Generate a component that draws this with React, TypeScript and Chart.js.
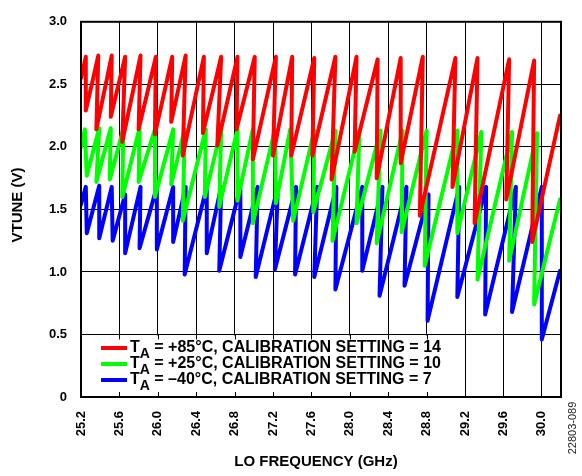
import React, { useEffect, useRef } from "react";
import { Chart, registerables } from "chart.js";

Chart.register(...registerables);

// ---- data (LO frequency in GHz, VTUNE in V) ----
const RED_X = [25.2, 25.25, 25.25, 25.38, 25.36, 25.52, 25.51, 25.66, 25.63, 25.82, 25.8, 25.98, 25.97, 26.15, 26.14, 26.29, 26.26, 26.48, 26.47, 26.66, 26.62, 26.83, 26.82, 27.01, 26.99, 27.23, 27.2, 27.4, 27.39, 27.63, 27.61, 27.85, 27.81, 28.07, 28.05, 28.29, 28.28, 28.53, 28.53, 28.76, 28.73, 29.1, 29.07, 29.33, 29.3, 29.66, 29.63, 29.92, 29.9, 30.19];
const RED_Y = [2.55, 2.72, 2.29, 2.73, 2.14, 2.73, 2.24, 2.72, 2.04, 2.73, 2.14, 2.72, 2.1, 2.72, 2.2, 2.73, 1.93, 2.72, 2.11, 2.72, 2.01, 2.72, 2.14, 2.72, 1.9, 2.72, 1.93, 2.72, 1.93, 2.71, 1.93, 2.72, 1.74, 2.72, 1.96, 2.7, 1.75, 2.71, 1.87, 2.72, 1.45, 2.71, 1.68, 2.71, 1.39, 2.7, 1.58, 2.69, 1.24, 2.25];

const GREEN_X = [25.2, 25.24, 25.26, 25.39, 25.36, 25.51, 25.5, 25.64, 25.63, 25.81, 25.8, 25.97, 25.97, 26.16, 26.14, 26.28, 26.26, 26.5, 26.49, 26.66, 26.64, 26.83, 26.83, 26.99, 26.99, 27.22, 27.23, 27.38, 27.41, 27.63, 27.62, 27.85, 27.82, 28.1, 28.07, 28.32, 28.28, 28.55, 28.54, 28.8, 28.78, 29.12, 29.12, 29.37, 29.33, 29.69, 29.66, 29.95, 29.92, 30.19];
const GREEN_Y = [2.0, 2.14, 1.77, 2.15, 1.72, 2.15, 1.74, 2.14, 1.6, 2.15, 1.72, 2.14, 1.6, 2.14, 1.7, 2.14, 1.41, 2.14, 1.6, 2.14, 1.52, 2.14, 1.57, 2.14, 1.39, 2.14, 1.55, 2.14, 1.41, 2.13, 1.48, 2.13, 1.25, 2.13, 1.39, 2.13, 1.23, 2.13, 1.32, 2.13, 1.05, 2.13, 1.31, 2.12, 0.94, 2.12, 1.09, 2.11, 0.74, 1.58];

const BLUE_X = [25.2, 25.25, 25.26, 25.39, 25.39, 25.52, 25.53, 25.66, 25.66, 25.82, 25.81, 25.99, 25.99, 26.16, 26.16, 26.29, 26.28, 26.51, 26.51, 26.66, 26.64, 26.86, 26.86, 27.04, 27.02, 27.25, 27.22, 27.44, 27.43, 27.66, 27.63, 27.86, 27.85, 28.13, 28.13, 28.34, 28.31, 28.59, 28.57, 28.82, 28.81, 29.14, 29.12, 29.42, 29.41, 29.73, 29.69, 30.0, 30.0, 30.19];
const BLUE_Y = [1.54, 1.68, 1.31, 1.69, 1.27, 1.68, 1.25, 1.62, 1.15, 1.68, 1.19, 1.68, 1.18, 1.68, 1.24, 1.68, 0.98, 1.68, 1.15, 1.68, 1.01, 1.68, 1.12, 1.68, 0.96, 1.68, 1.02, 1.68, 0.98, 1.68, 0.96, 1.68, 0.86, 1.68, 1.01, 1.68, 0.81, 1.68, 0.89, 1.62, 0.61, 1.68, 0.8, 1.68, 0.66, 1.68, 0.68, 1.68, 0.46, 1.01];

const X_TICKS = [25.2, 25.6, 26.0, 26.4, 26.8, 27.2, 27.6, 28.0, 28.4, 28.8, 29.2, 29.6, 30.0];
const X_MIN = 25.2;
const X_MAX = 30.2;
const Y_TICK_LABELS = ["0", "0.5", "1.0", "1.5", "2.0", "2.5", "3.0"];

const SERIES_COLORS = ["#ff0000", "#00ff00", "#0000ff"];
const LEGEND_TEMPS = ["+85°C", "+25°C", "\u201340°C"];
const LEGEND_SETTINGS = ["14", "10", "7"];

const X_TITLE = "LO FREQUENCY (GHz)";
const Y_TITLE = "VTUNE (V)";
const FIG_CODE = "22803-089";

const FONT = "'Liberation Sans', Arial, Helvetica, sans-serif";

const decorPlugin = {
  id: "decor",
  afterDatasetsDraw(chart: any) {
    const { ctx, chartArea, scales } = chart;
    const xs = scales.x;
    const ys = scales.y;
    const yTop = ys.getPixelForValue(0.5);
    const yBot = ys.getPixelForValue(0);
    const boxRight = xs.getPixelForValue(29.08);
    ctx.save();
    // legend box
    ctx.fillStyle = "#ffffff";
    ctx.fillRect(chartArea.left + 1, yTop + 1, boxRight - chartArea.left - 1, yBot - yTop - 2);
    ctx.strokeStyle = "#000";
    ctx.lineWidth = 1;
    for (const v of X_TICKS) {
      const px = Math.round(xs.getPixelForValue(v)) + 0.5;
      if (px <= chartArea.left + 2 || px >= boxRight) continue;
      ctx.beginPath();
      ctx.moveTo(px, yTop);
      ctx.lineTo(px, yTop + 5);
      ctx.moveTo(px, yBot);
      ctx.lineTo(px, yBot - 5);
      ctx.stroke();
    }
    const rows = [348, 364, 380];
    for (let i = 0; i < 3; i++) {
      const ry = rows[i];
      ctx.strokeStyle = SERIES_COLORS[i];
      ctx.lineWidth = 4;
      ctx.beginPath();
      ctx.moveTo(101, ry);
      ctx.lineTo(127, ry);
      ctx.stroke();
      ctx.fillStyle = "#000";
      ctx.textBaseline = "middle";
      ctx.textAlign = "left";
      ctx.font = `bold 16px ${FONT}`;
      let tx = 130;
      ctx.fillText("T", tx, ry);
      tx += ctx.measureText("T").width;
      ctx.font = `bold 14px ${FONT}`;
      ctx.fillText("A", tx, ry + 6);
      tx += ctx.measureText("A").width;
      ctx.font = `bold 16px ${FONT}`;
      ctx.fillText(` = ${LEGEND_TEMPS[i]}, CALIBRATION SETTING = ${LEGEND_SETTINGS[i]}`, tx, ry);
    }
    // frame
    ctx.strokeStyle = "#000";
    ctx.lineWidth = 2;
    ctx.strokeRect(chartArea.left, chartArea.top, chartArea.right - chartArea.left, chartArea.bottom - chartArea.top);
    ctx.restore();
  },
  afterDraw(chart: any) {
    const { ctx } = chart;
    ctx.save();
    ctx.fillStyle = "#000";
    ctx.textAlign = "center";
    ctx.textBaseline = "middle";
    ctx.font = `bold 15px ${FONT}`;
    ctx.fillText(X_TITLE, 316, 462);
    ctx.save();
    ctx.translate(18, 205);
    ctx.rotate(-Math.PI / 2);
    ctx.fillText(Y_TITLE, 0, 0);
    ctx.restore();
    ctx.save();
    ctx.translate(573, 428);
    ctx.rotate(-Math.PI / 2);
    ctx.font = `11px ${FONT}`;
    ctx.fillStyle = "#222";
    ctx.fillText(FIG_CODE, 0, 0);
    ctx.restore();
    ctx.restore();
  },
};

export default function App() {
  const canvasRef = useRef<HTMLCanvasElement | null>(null);

  useEffect(() => {
    const canvas = canvasRef.current;
    if (!canvas) return;
    const mk = (xs: number[], ys: number[]) => xs.map((x, i) => ({ x, y: ys[i] }));
    const series = [
      mk(RED_X, RED_Y),
      mk(GREEN_X, GREEN_Y),
      mk(BLUE_X, BLUE_Y),
    ];
    const chart = new Chart(canvas, {
      type: "scatter",
      data: {
        datasets: series.map((d, i) => ({
          data: d,
          showLine: true,
          borderColor: SERIES_COLORS[i],
          backgroundColor: SERIES_COLORS[i],
          borderWidth: 4,
          pointRadius: 0,
          pointHoverRadius: 0,
          tension: 0,
          fill: false,
          borderJoinStyle: "round",
          borderCapStyle: "round",
        })),
      },
      options: {
        animation: false,
        responsive: false,
        devicePixelRatio: 1,
        events: [],
        layout: { padding: { top: 14, right: 21, left: 0, bottom: 0 } },
        plugins: { legend: { display: false }, tooltip: { enabled: false }, title: { display: false } },
        scales: {
          x: {
            type: "linear",
            min: X_MIN,
            max: X_MAX,
            afterBuildTicks: (s: any) => {
              s.ticks = X_TICKS.map((v) => ({ value: v }));
            },
            afterFit: (s: any) => {
              s.height = 79;
            },
            ticks: {
              autoSkip: false,
              minRotation: 90,
              maxRotation: 90,
              padding: 14,
              color: "#000",
              font: { family: FONT, size: 13, weight: "bold" },
              callback: (v: any) => Number(v).toFixed(1),
            },
            grid: { color: "#000", lineWidth: 1, drawTicks: false },
            border: { display: false },
          },
          y: {
            type: "linear",
            min: 0,
            max: 3,
            afterFit: (s: any) => {
              s.width = 81;
            },
            ticks: {
              stepSize: 0.5,
              padding: 14,
              color: "#000",
              font: { family: FONT, size: 13, weight: "bold" },
              callback: (_v: any, i: number) => Y_TICK_LABELS[i],
            },
            grid: { color: "#000", lineWidth: 1, drawTicks: false },
            border: { display: false },
          },
        },
      },
      plugins: [decorPlugin],
    } as any);
    return () => chart.destroy();
  }, []);

  return (
    <div style={{ position: "fixed", left: 0, top: 0, width: 582, height: 476, background: "#fff" }}>
      <canvas ref={canvasRef} width={582} height={476} style={{ display: "block", width: 582, height: 476 }} />
    </div>
  );
}
